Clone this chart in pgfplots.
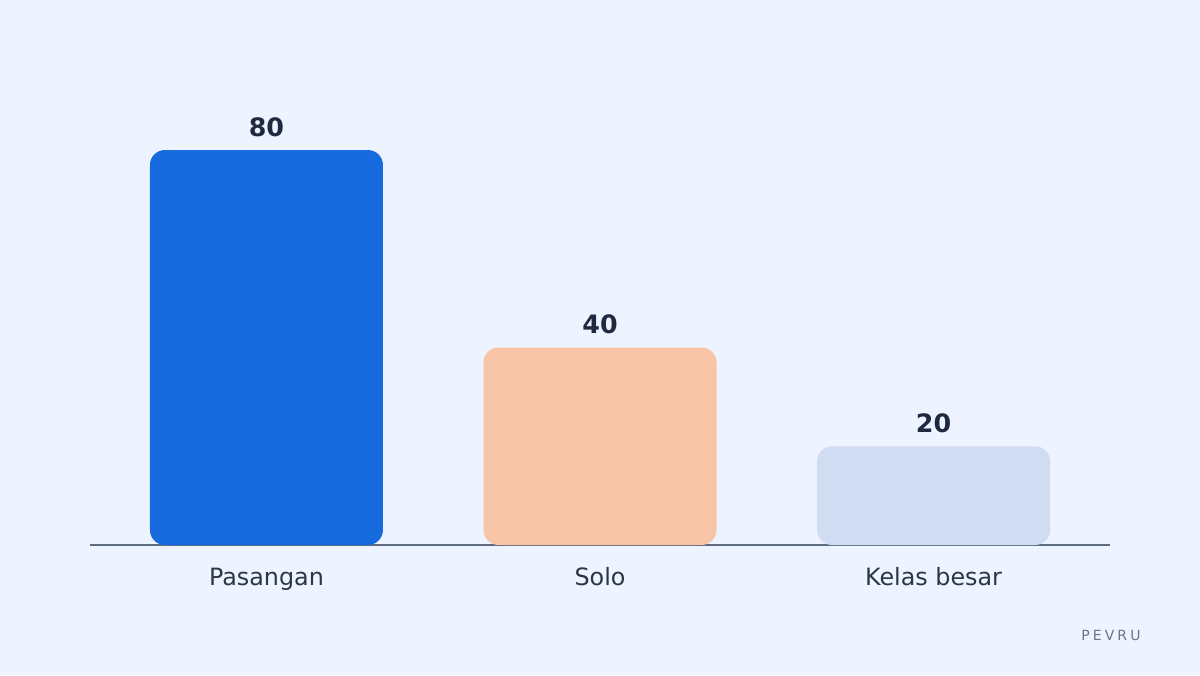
\documentclass[border=0pt]{standalone}
\usepackage{fontspec}
\setmainfont{DejaVu Sans}
\usepackage{pgfplots}
\pgfplotsset{compat=1.18}

\definecolor{bgcol}{HTML}{EEF4FF}
\definecolor{barA}{HTML}{176BDF}
\definecolor{barB}{HTML}{F7C4A5}
\definecolor{barC}{HTML}{D0DCF2}
\definecolor{axiscol}{HTML}{5F6B7F}
\definecolor{labcol}{HTML}{2B3648}
\definecolor{valcol}{HTML}{1F2A40}
\definecolor{markcol}{HTML}{6B7587}

\begin{document}
\begin{tikzpicture}
    % page background, 1px = 0.6pt
    \fill[bgcol] (0,0) rectangle (720pt,405pt);

    \begin{axis}[
        at={(54pt,78pt)},
        anchor=south west,
        scale only axis,
        width=612pt,
        height=267pt,
        xmin=-0.529, xmax=2.529,
        ymin=0, ymax=90.13,
        ybar,
        bar width=139.8pt,
        bar shift=0pt,
        hide y axis,
        axis x line=bottom,
        x axis line style={-, draw=axiscol, line width=1.2pt},
        xtick={0,1,2},
        xticklabels={Pasangan, Solo, Kelas besar},
        major tick length=0pt,
        xticklabel style={font=\fontsize{14.3}{16}\selectfont, text=labcol,
            inner sep=0pt, anchor=base, yshift=-24.2pt},
        nodes near coords,
        nodes near coords style={font=\fontsize{15.2}{18}\selectfont\bfseries,
            text=valcol, inner sep=0pt, anchor=south, yshift=7.8pt},
        /pgf/number format/assume math mode=true,
        every axis plot/.append style={draw=none, rounded corners=9pt},
        clip=false,
    ]
    \addplot[fill=barA] coordinates {(0,80)};
    \addplot[fill=barB] coordinates {(1,40)};
    \addplot[fill=barC] coordinates {(2,20)};
    \end{axis}

    \node[anchor=east, inner sep=0pt, text=markcol,
        font=\fontsize{8.4}{10}\selectfont\addfontfeature{LetterSpace=22}]
        at (684.5pt,23.6pt) {PEVRU};
\end{tikzpicture}
\end{document}
